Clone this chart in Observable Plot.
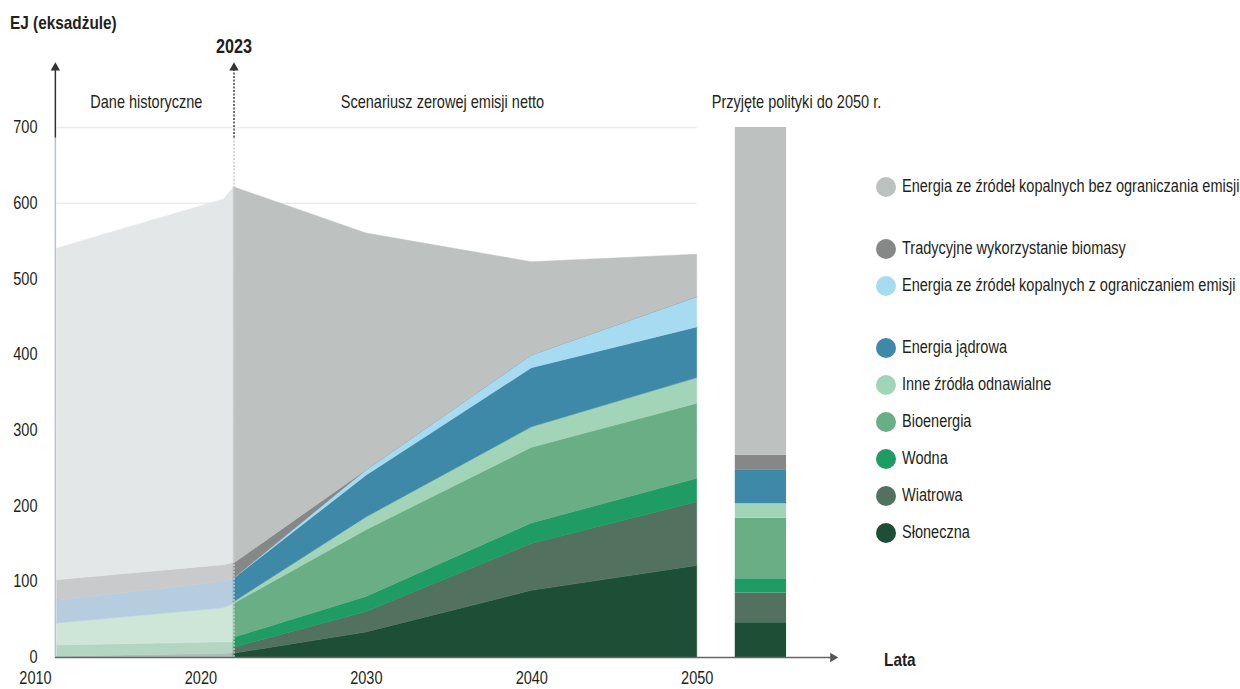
<!DOCTYPE html>
<html lang="pl">
<head>
<meta charset="utf-8">
<script src="https://cdn.jsdelivr.net/npm/d3@7"></script>
<script src="https://cdn.jsdelivr.net/npm/@observablehq/plot@0.6"></script>
<style>
  html, body { margin: 0; padding: 0; background: #fff; }
  body { font-family: "Liberation Sans", Arial, sans-serif; color: #231f20; }
  #wrap { position: relative; width: 1240px; height: 689px; overflow: hidden; }
  #chart { position: absolute; left: 0; top: 0; }
  .narrow { display: inline-block; transform: scaleX(0.83); transform-origin: 0 50%; white-space: nowrap; }
  .unit { position: absolute; left: 10px; top: 12px; font-weight: bold; font-size: 18.5px; }
  .xname { position: absolute; left: 884px; top: 649px; font-weight: bold; font-size: 18.5px; }
  #legend { position: absolute; left: 876px; top: 168px; }
  .row { display: flex; align-items: center; height: 37px; font-size: 17.5px; white-space: nowrap; }
  .row.gap { margin-top: 25px; }
  .dot { width: 20px; height: 20px; border-radius: 50%; margin-right: 6px; flex: none; }
</style>
</head>
<body>
<div id="wrap">
  <div id="chart"></div>
  <div class="unit"><span class="narrow">EJ (eksadżule)</span></div>
  <div class="xname"><span class="narrow">Lata</span></div>
  <div id="legend"></div>
</div>
<script>
// Energy supply by source, EJ
const categories = [
  "Słoneczna",
  "Wiatrowa",
  "Wodna",
  "Bioenergia",
  "Inne źródła odnawialne",
  "Energia jądrowa",
  "Energia ze źródeł kopalnych z ograniczaniem emisji",
  "Tradycyjne wykorzystanie biomasy",
  "Energia ze źródeł kopalnych bez ograniczania emisji"
];
const categoryColors = [
  "#1d4f37", "#52725f", "#1f9b64", "#6aae85", "#a2d5b7",
  "#3d89a7", "#a6dbf1", "#858886", "#bdc1c0"
];

// Net-zero scenario, bottom-to-top stack order
const scenarioYears = [2022, 2030, 2040, 2050];
const solar = [5, 33, 88, 121];
const wind = [8, 27, 62, 84];
const hydro = [13, 20, 27, 31];
const bioenergy = [45, 88, 100, 99];
const otherRenewables = [2, 17, 27, 34];
const nuclear = [31, 55, 78, 67];
const fossilAbated = [0, 7, 17, 40];
const traditionalBiomass = [20, 0, 0, 0];
const fossilUnabated = [497, 313, 123, 56];
const scenarioSeries = [solar, wind, hydro, bioenergy, otherRenewables, nuclear, fossilAbated, traditionalBiomass, fossilUnabated];

// Stated policies, 2050 (same category order)
const policies2050 = [46, 39, 19, 80, 19, 45, 0, 19, 433];
const policyBarYears = [2052.3, 2055.4];

// Historical data, drawn in muted tones
const histYears = [2011.3, 2021.4, 2022];
const histWindSolar = [1, 5, 6];
const histHydro = [15, 15, 14];
const histRenewables = [29, 45, 51];
const histNuclear = [30, 35, 33];
const histTraditional = [27, 22, 21];
const histFossil = [438, 483, 496];
const histSeries = [histWindSolar, histHydro, histRenewables, histNuclear, histTraditional, histFossil];
const histColors = ["#aebdb4", "#b3d6c2", "#cde6d8", "#b6cde0", "#c9cacb", "#e3e7e7"];

// Axes and annotations
const xTicks = [2010, 2020, 2030, 2040, 2050];
const yTicks = [0, 100, 200, 300, 400, 500, 600, 700];
const axisYear = 2011.2;
const xAxisEnd = 2058.2;
const markerYear = 2022;
const regionLabels = [
  {text: "Dane historyczne", x: 2016.7, y: 733},
  {text: "Scenariusz zerowej emisji netto", x: 2034.6, y: 733},
  {text: "Przyjęte polityki do 2050 r.", x: 2056.0, y: 733}
];
const markerLabel = [{text: "2023", x: markerYear, y: 806}];

const scenarioData = categories.flatMap((cat, i) =>
  scenarioYears.map((year, j) => ({year, value: scenarioSeries[i][j], cat, color: categoryColors[i]})));
const histData = histSeries.flatMap((series, i) =>
  histYears.map((year, j) => ({year, value: series[j], cat: "h" + i, color: histColors[i]})));
const policyTops = d3.cumsum(policies2050);
const policyData = categories.map((cat, i) => ({
  cat, y1: policyTops[i] - policies2050[i], y2: policyTops[i], color: categoryColors[i]
})).filter(d => d.y2 > d.y1);

const chart = Plot.plot({
  width: 1240,
  height: 689,
  marginLeft: 57,
  marginBottom: 32,
  marginTop: 0,
  marginRight: 0,
  x: {domain: [2010, 2058.6], range: [35, 839]},
  y: {domain: [0, 700], range: [657, 127]},
  color: {type: "identity"},
  style: {fontFamily: `"Liberation Sans", Arial, sans-serif`, fontSize: "17.5px", color: "#231f20", background: "transparent"},
  marks: [
    Plot.ruleY(yTicks.filter(v => v > 0), {x1: histYears[0], x2: 2050, stroke: "#ececec", strokeWidth: 1.5}),
    Plot.areaY(histData, {x: "year", y: "value", z: "cat", fill: "color", stroke: "color", strokeWidth: 0.5}),
    Plot.areaY(scenarioData, {x: "year", y: "value", z: "cat", fill: "color", stroke: "color", strokeWidth: 0.5}),
    Plot.rect(policyData, {x1: () => policyBarYears[0], x2: () => policyBarYears[1], y1: "y1", y2: "y2", fill: "color"}),
    // vertical axis with arrow
    Plot.ruleX([axisYear], {y1: 0, y2: 686, stroke: "#b8c2ce", strokeWidth: 1.5}),
    Plot.ruleX([axisYear], {y1: 686, y2: 776, stroke: "#333", strokeWidth: 1.5}),
    Plot.dot([axisYear], {x: d => d, y: () => 779, symbol: "triangle", r: 3.5, fill: "#333"}),
    // 2023 marker line
    Plot.ruleX([markerYear], {y1: 0, y2: 686, stroke: "#c9c9c9", strokeWidth: 1.5, strokeDasharray: "2,1.5"}),
    Plot.ruleX([markerYear], {y1: 686, y2: 776, stroke: "#444", strokeWidth: 1.5, strokeDasharray: "2,1.5"}),
    Plot.dot([markerYear], {x: d => d, y: () => 779, symbol: "triangle", r: 3.5, fill: "#333"}),
    // horizontal axis with arrow
    Plot.ruleY([0], {x1: axisYear, x2: xAxisEnd, stroke: "#666", strokeWidth: 1.5}),
    Plot.dot([xAxisEnd], {x: d => d, y: () => 0, symbol: "triangle", r: 3.5, fill: "#555", rotate: 90}),
    Plot.axisX({ticks: xTicks, tickSize: 0, tickPadding: 14, tickFormat: "d", label: null}),
    Plot.axisY({ticks: yTicks, tickSize: 0, tickPadding: 20, tickFormat: "d", label: null}),
    Plot.text(regionLabels, {x: "x", y: "y", text: "text", fill: "#231f20"}),
    Plot.text(markerLabel, {x: "x", y: "y", text: "text", fontSize: 19.5, fontWeight: "bold", fill: "#231f20"})
  ]
});

// Condensed lettering: squeeze every label horizontally around its anchor
const squeeze = 0.83;
chart.querySelectorAll("text").forEach(t => {
  const x = +(t.getAttribute("x") || 0);
  if (x) t.setAttribute("x", x / squeeze);
  const tr = t.getAttribute("transform") || "";
  t.setAttribute("transform", `${tr} scale(${squeeze},1)`.trim());
});
document.getElementById("chart").append(chart);

// Legend, top to bottom
const legendOrder = [8, 7, 6, 5, 4, 3, 2, 1, 0];
const legend = document.getElementById("legend");
legendOrder.forEach((ci, k) => {
  const row = document.createElement("div");
  row.className = "row" + (k === 1 || k === 3 ? " gap" : "");
  const dot = document.createElement("span");
  dot.className = "dot";
  dot.style.background = categoryColors[ci];
  const label = document.createElement("span");
  label.className = "narrow";
  label.textContent = categories[ci];
  row.append(dot, label);
  legend.append(row);
});
</script>
</body>
</html>
